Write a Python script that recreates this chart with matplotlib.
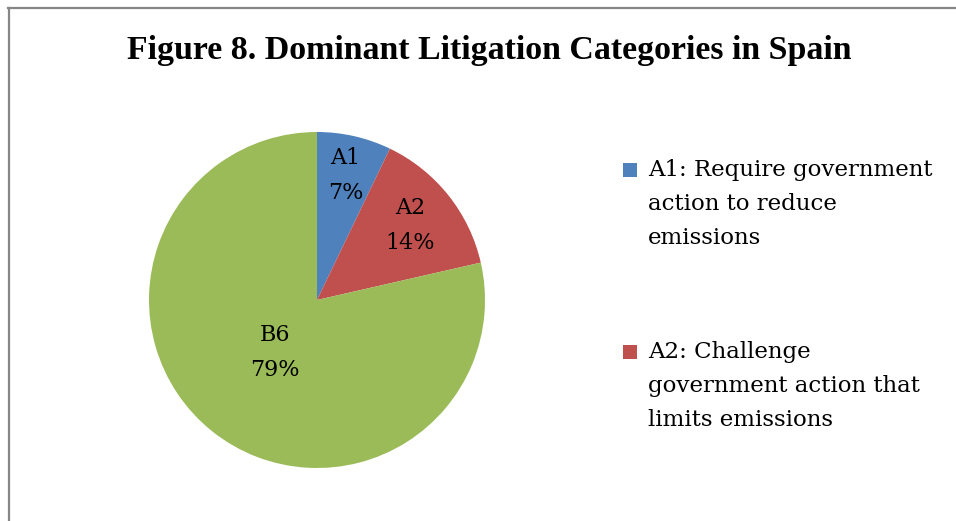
import numpy as np
import matplotlib.pyplot as plt
from matplotlib.lines import Line2D
from matplotlib.patches import Rectangle

# case counts per category (share of Spanish litigation)
categories = ['A1', 'A2', 'B6']
counts = [1, 2, 11]
colors = ['#4F81BD', '#C0504D', '#9BBB59']
legend_labels = ['A1: Require government\naction to reduce\nemissions',
                 'A2: Challenge\ngovernment action that\nlimits emissions']
label_radius = [0.76, 0.71, 0.40]

title = 'Figure 8. Dominant Litigation Categories in Spain'
title_font = ['Liberation Serif', 'DejaVu Serif']
body_font = ['DejaVu Serif']

W, H = 956, 521
fig = plt.figure(figsize=(W / 100, H / 100), dpi=100)

# chart frame (only top and left edges visible in the crop)
fig.add_artist(Line2D([8.5 / W, 8.5 / W], [0, 1 - 8 / H], transform=fig.transFigure,
                      color='#868686', lw=1.6))
fig.add_artist(Line2D([8 / W, 1], [1 - 8 / H, 1 - 8 / H], transform=fig.transFigure,
                      color='#868686', lw=1.6))

fig.text(489 / W, 1 - 50 / H, title, ha='center', va='center',
         fontsize=24.4, fontweight='bold', family=title_font)

ax = fig.add_axes([149 / W, 53 / H, 336 / W, 336 / H])
wedges, _ = ax.pie(counts, colors=colors, startangle=90, counterclock=False,
                   radius=1, wedgeprops=dict(linewidth=0))
ax.set_xlim(-1, 1)
ax.set_ylim(-1, 1)

total = sum(counts)
for w, cat, n, r in zip(wedges, categories, counts, label_radius):
    mid = np.deg2rad((w.theta1 + w.theta2) / 2)
    pct = round(100 * n / total)
    ax.text(r * np.cos(mid), r * np.sin(mid), f'{cat}\n{pct}%', ha='center', va='center',
            fontsize=16, family=body_font, linespacing=1.8)

# legend drawn by hand: square aligned with the first text line
for i, (lab, col) in enumerate(zip(legend_labels, colors[:2])):
    y0 = 170 + i * 182
    fig.add_artist(Rectangle((623 / W, 1 - (y0 + 7) / H), 14 / W, 14 / H,
                             transform=fig.transFigure, facecolor=col, edgecolor='none'))
    fig.text(648 / W, 1 - (y0 - 11) / H, lab, ha='left', va='top',
             fontsize=16.5, family=body_font, linespacing=1.7)

fig.savefig('out.png', dpi=100)
